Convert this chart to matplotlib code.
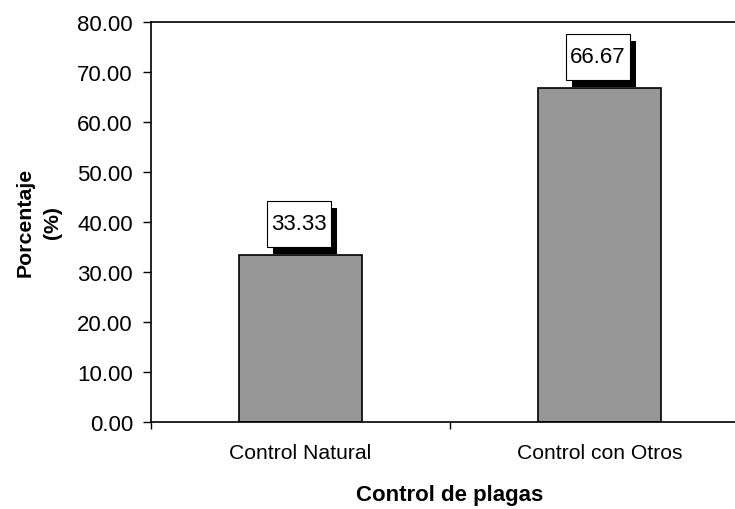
import matplotlib.pyplot as plt
import matplotlib.transforms as mtransforms
from matplotlib.patches import Rectangle

categorias = ['Control Natural', 'Control con Otros']
porcentajes = [33.33, 66.67]

plt.rcParams['font.family'] = ['Liberation Sans', 'DejaVu Sans']

fig = plt.figure(figsize=(7.35, 5.1), dpi=100)
ax = fig.add_axes([151 / 735, 87.3 / 510, 598 / 735, 400 / 510])

posiciones = [0.5, 1.5]
ax.bar(posiciones, porcentajes, width=0.41, color='#969696',
       edgecolor='black', linewidth=1.2, zorder=2)

ax.set_xlim(0, 2)
ax.set_ylim(0, 80)
ax.set_yticks(range(0, 81, 10))
ax.set_yticklabels([f'{v:.2f}' for v in range(0, 81, 10)])

# tick marks between categories, labels centred on the bars
ax.set_xticks([0, 1, 2])
ax.set_xticklabels([])
ax.set_xticks(posiciones, minor=True)
ax.set_xticklabels(categorias, minor=True)
ax.tick_params(axis='x', which='major', direction='out', length=5, width=1)
ax.tick_params(axis='x', which='minor', length=0, pad=15, labelsize=15.2)
ax.tick_params(axis='y', direction='out', length=6, width=1, pad=7,
               labelsize=16)

for s in ax.spines.values():
    s.set_linewidth(1.2)
    s.set_color('black')

ax.set_xlabel('Control de plagas', fontsize=16, fontweight='bold', va='center')
ax.xaxis.set_label_coords(0.5, -0.182)
ax.set_ylabel('Porcentaje\n(%)', fontsize=15.3, fontweight='bold', va='center',
              linespacing=1.55)
ax.yaxis.set_label_coords(-0.187, 0.5)

# value boxes with a black drop shadow, sized in inches above each bar top
for x, v in zip(posiciones, porcentajes):
    trans = fig.dpi_scale_trans + mtransforms.ScaledTranslation(x, v, ax.transData)
    ax.add_patch(Rectangle((-0.28, 0.015), 0.64, 0.46, facecolor='black',
                           edgecolor='none', transform=trans, clip_on=False, zorder=3))
    ax.add_patch(Rectangle((-0.34, 0.085), 0.64, 0.46, facecolor='white',
                           edgecolor='black', linewidth=0.8, transform=trans,
                           clip_on=False, zorder=4))
    ax.text(-0.02, 0.315, f'{v:.2f}', transform=trans, ha='center', va='center',
            fontsize=16, zorder=5)

fig.savefig('out.png', dpi=100)
